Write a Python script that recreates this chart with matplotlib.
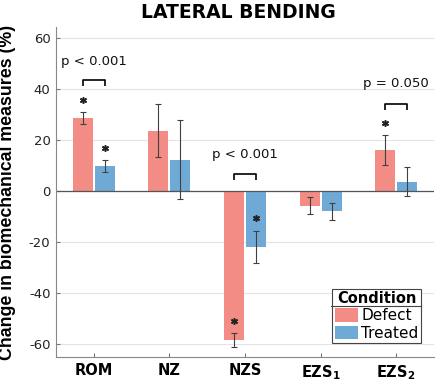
import matplotlib
matplotlib.use("Agg")
import matplotlib.pyplot as plt
import numpy as np
from matplotlib.patches import Patch
from matplotlib.lines import Line2D

categories = ["ROM", "NZ", "NZS", r"EZS$_{\mathbf{1}}$", r"EZS$_{\mathbf{2}}$"]
defect_mean = [28.6, 23.7, -58.4, -5.7, 16.0]
defect_err = [2.4, 10.3, 2.6, 3.3, 6.0]
treated_mean = [9.7, 12.3, -22.0, -8.0, 3.7]
treated_err = [2.4, 15.4, 6.4, 3.2, 5.7]
defect_star = [35.8, None, -51.1, None, 26.8]
treated_star = [17.0, None, -10.7, None, None]
# significance brackets: (category index, bracket height, label, label height)
brackets = [(0, 43.4, "p < 0.001", 50.9), (2, 6.8, "p < 0.001", 14.4), (4, 34.3, "p = 0.050", 42.2)]
yticks = [-60, -40, -20, 0, 20, 40, 60]

c_def = "#F28C84"
c_tr = "#6FAAD6"

plt.rcParams['mathtext.fontset'] = 'dejavusans'
fig = plt.figure(figsize=(4.36, 3.87), dpi=100)
ax = fig.add_axes([56/436, 1-357.3/387, (434-56)/436, (357.3-27)/387])

x = np.arange(1, len(categories)+1)
off = 0.145
w = 0.265
ax.bar(x-off, defect_mean, w, color=c_def, zorder=2)
ax.bar(x+off, treated_mean, w, color=c_tr, zorder=2)
ax.errorbar(x-off, defect_mean, yerr=defect_err, fmt='none', ecolor='#404040', elinewidth=0.8, capsize=2.5, capthick=0.8, zorder=3)
ax.errorbar(x+off, treated_mean, yerr=treated_err, fmt='none', ecolor='#404040', elinewidth=0.8, capsize=2.5, capthick=0.8, zorder=3)

for i, s in enumerate(defect_star):
    if s is not None:
        ax.plot(x[i]-off, s, marker=(6, 2, 0), ms=5, mew=1.0, color='#222222', zorder=4)
        ax.plot(x[i]-off, s, marker='o', ms=2.2, color='#222222', zorder=4)
for i, s in enumerate(treated_star):
    if s is not None:
        ax.plot(x[i]+off, s, marker=(6, 2, 0), ms=5, mew=1.0, color='#222222', zorder=4)
        ax.plot(x[i]+off, s, marker='o', ms=2.2, color='#222222', zorder=4)

for i, h, lab, th in brackets:
    xs = [x[i]-off, x[i]-off, x[i]+off, x[i]+off]
    ys = [h-2.4, h, h, h-2.4]
    ax.plot(xs, ys, color='black', lw=1.2, zorder=4, solid_capstyle='butt')
    ax.text(x[i], th, lab, ha='center', va='center', fontsize=9.5, color='#111111')

ax.axhline(0, color='#555555', lw=0.9, zorder=2.5)
ax.set_xlim(0.5, 5.5)
ax.set_ylim(-65.2, 64.3)
ax.set_yticks(yticks)
ax.set_yticklabels([str(t) for t in yticks], fontsize=9.5, color='#222222')
ax.set_xticks(x)
ax.set_xticklabels(categories, fontsize=10.5, fontweight='bold')
ax.tick_params(direction='in', length=3, color='#777777', pad=4)
ax.grid(axis='y', color='#e4e4e4', lw=0.8, zorder=0)
ax.set_axisbelow(True)
for sp in ['top', 'right']:
    ax.spines[sp].set_visible(False)
for sp in ['left', 'bottom']:
    ax.spines[sp].set_color('#888888')
    ax.spines[sp].set_linewidth(0.8)

ax.set_ylabel("Change in biomechanical measures (%)", fontsize=12.8, fontweight='bold',
              family=['Liberation Sans', 'DejaVu Sans'])
ax.yaxis.set_label_coords((16-56)/378, 0.5)
fig.text(238/436, 1-13/387, "LATERAL BENDING", ha='center', va='center', fontsize=13.5, fontweight='bold')

handles = [Patch(facecolor=c_def, edgecolor='none', label='Defect'),
           Patch(facecolor=c_tr, edgecolor='none', label='Treated')]
leg = ax.legend(handles=handles, title='Condition', loc='lower right',
                bbox_to_anchor=(0.9656, 0.0433), fontsize=11, title_fontproperties={'weight': 'bold', 'size': 10.5},
                frameon=True, fancybox=False, edgecolor='#444444', framealpha=1,
                handlelength=1.55, handleheight=1.0, handletextpad=0.2, labelspacing=0.15,
                borderpad=0.15, borderaxespad=0)
leg.get_frame().set_linewidth(0.8)
fig.add_artist(Line2D([331/436, 421/436], [1-306/387, 1-306/387], color='#444444', lw=0.8))

fig.savefig("out.png", dpi=100)
